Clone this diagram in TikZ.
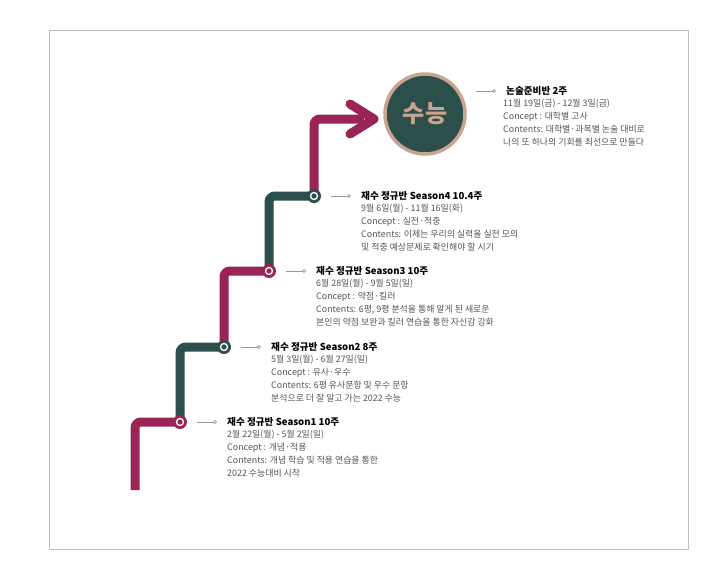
\documentclass[tikz,border=0pt]{standalone}
\usepackage{fontspec}
\setmainfont{Noto Sans CJK KR}
\definecolor{mag}{HTML}{9B2456}
\definecolor{grn}{HTML}{2C4F4B}
\definecolor{tan}{HTML}{C9A48E}
\definecolor{txt}{HTML}{555555}
\begin{document}
\begin{tikzpicture}[x=1pt,y=-1pt,
 seg/.style={line width=9pt,rounded corners=6pt},
 dot/.style={circle,draw=white,line width=1.3pt,inner sep=0pt,minimum size=7pt},
 ring/.style={circle,fill=#1,inner sep=0pt,minimum size=14pt},
 lead/.style={draw=gray!80,line width=0.6pt},
 title/.style={anchor=west,font=\fontsize{9.6}{11}\selectfont\bfseries,inner sep=0pt},
 body/.style={anchor=north west,align=left,text=txt,font=\fontsize{8.9}{13}\selectfont,inner sep=0pt}]
\useasboundingbox (0,0) rectangle (720,582);
\draw[gray!50,line width=0.6pt] (49,30) rectangle (688,549);
\coordinate (s0) at (135,490);
\coordinate (p1) at (180,422);
\coordinate (p2) at (224,347);
\coordinate (p3) at (269,271);
\coordinate (p4) at (314,196);
\coordinate (tip) at (374,119);
\draw[seg,mag] (s0) |- (p1);
\draw[seg,grn] (p1) |- (p2);
\draw[seg,mag] (p2) |- (p3);
\draw[seg,grn] (p3) |- (p4);
\draw[seg,mag] (p4) |- (364,119);
\draw[mag,line width=9pt,line cap=round,line join=round] (350,104) -- (tip) -- (350,134);
\foreach \p/\c in {p1/mag,p2/grn,p3/mag,p4/grn}{
 \node[ring=\c] at (\p) {}; \node[dot] at (\p) {};}
\node[circle,fill=grn,draw=tan,line width=3.5pt,minimum size=80pt,text=tan,font=\fontsize{24}{26}\selectfont\bfseries] (sn) at (425,114) {수능};
\foreach \x/\y/\n in {197/422/a,241/347/b,286/271/c,331/196/d,476/91/e}{
 \draw[lead] (\x,\y) -- (\x+17,\y);
 \node[circle,draw=gray,fill=white,line width=0.5pt,inner sep=0pt,minimum size=3pt] (l\n) at (\x+18,\y) {};
 \coordinate (t\n) at (\x+30,\y);}
\node[title] (ha) at (ta) {재수 정규반 Season1 10주};
\node[body] at (227,430) {2월 22일(월) - 5월 2일(일)\\Concept : 개념·적용\\Contents: 개념 학습 및 적용 연습을 통한\\2022 수능대비 시작};
\node[title] (hb) at (tb) {재수 정규반 Season2 8주};
\node[body] at (271,355) {5월 3일(월) - 6월 27일(일)\\Concept : 유사·우수\\Contents: 6평 유사문항 및 우수 문항\\분석으로 더 잘 알고 가는 2022 수능};
\node[title] (hc) at (tc) {재수 정규반 Season3 10주};
\node[body] at (316,279) {6월 28일(월) - 9월 5일(일)\\Concept : 약점·킬러\\Contents: 6평, 9평 분석을 통해 알게 된 새로운\\본인의 약점 보완과 킬러 연습을 통한 자신감 강화};
\node[title] (hd) at (td) {재수 정규반 Season4 10.4주};
\node[body] at (361,204) {9월 6일(월) - 11월 16일(화)\\Concept : 실전·적중\\Contents: 이제는 우리의 실력을 실전 모의\\및 적중 예상문제로 확인해야 할 시기};
\node[title] (he) at (te) {논술준비반 2주};
\node[body] at (503,99) {11월 19일(금) - 12월 3일(금)\\Concept : 대학별 고사\\Contents: 대학별·과목별 논술 대비로\\나의 또 하나의 기회를 최선으로 만들다};
\end{tikzpicture}
\end{document}
